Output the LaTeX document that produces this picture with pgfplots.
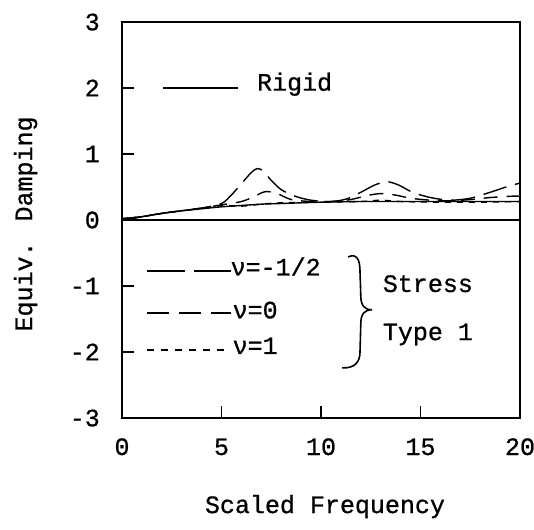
\documentclass[border=0pt]{standalone}
\usepackage{pgfplots}
\pgfplotsset{compat=1.18}
\usepackage{fontspec}
\setmainfont{Liberation Mono}[UprightFeatures={FakeBold=0.8}]
\newcommand{\ff}{\fontsize{25}{30}\selectfont}
\begin{document}
\begin{tikzpicture}[font=\ff]
\useasboundingbox (-122pt,-111pt) rectangle (412pt,418pt);
\begin{axis}[
  scale only axis, width=398pt, height=396pt,
  xmin=0, xmax=20, ymin=-3, ymax=3,
  xtick={0,5,10,15,20}, xticklabels={0,5,10,15,20},
  ytick={-3,-2,-1,0,1,2,3}, yticklabels={-3,-2,-1,0,1,2,3},
  tick pos=left, tick align=inside, major tick length=12pt,
  axis line style={line width=1.2pt},
  every tick/.style={black, line width=1.2pt},
  tick label style={font=\ff},
  xticklabel style={anchor=base, inner sep=0pt, yshift=-37pt},
  yticklabel style={anchor=east, inner sep=0pt, xshift=-22pt},
  xlabel={Scaled Frequency},
  ylabel={Equiv. Damping},
  every axis x label/.style={at={(axis description cs:0.51,-0.24)}, anchor=base, font=\ff},
  every axis y label/.style={at={(axis description cs:-0.226,0.49)}, anchor=base, rotate=90, font=\ff},
  clip=false,
]
\draw[line width=1.2pt] (axis cs:0,0) -- (axis cs:20,0);
% Rigid (solid)
\addplot[black, line width=1.4pt, smooth] coordinates {
(0,0.02) (0.5,0.02) (1,0.05) (2,0.10) (3,0.14) (4,0.17) (5,0.20) (6,0.22) (7,0.24) (8,0.25) (10,0.27) (12,0.28) (14,0.28) (16,0.28) (18,0.28) (20,0.28)};
% nu = -1/2 (long dash)
\addplot[black, line width=1.4pt, smooth, dash pattern=on 24pt off 9pt] coordinates {
(0,0.02) (1,0.05) (2,0.1) (3,0.14) (4,0.18) (5,0.25) (5.5,0.38) (6,0.55) (6.5,0.72) (6.8,0.78) (7.1,0.74) (7.5,0.6) (8,0.46) (8.7,0.36) (9.5,0.3) (10.5,0.28) (11.3,0.32) (12,0.42) (12.7,0.53) (13.3,0.58) (13.9,0.53) (14.6,0.42) (15.5,0.34) (16.5,0.3) (17.5,0.33) (18.5,0.42) (19.3,0.5) (20,0.56)};
% nu = 0 (medium dash)
\addplot[black, line width=1.4pt, smooth, dash pattern=on 14pt off 9pt] coordinates {
(0,0.02) (1,0.05) (2,0.1) (3,0.14) (4,0.18) (5,0.23) (6,0.28) (6.6,0.35) (7.2,0.43) (7.8,0.4) (8.5,0.31) (9.5,0.28) (10.5,0.28) (11.5,0.31) (12.3,0.37) (13,0.4) (13.7,0.38) (14.5,0.33) (15.5,0.3) (16.5,0.29) (17.5,0.31) (18.5,0.34) (19.5,0.36) (20,0.36)};
% nu = 1 (short dash)
\addplot[black, line width=1.4pt, smooth, dash pattern=on 6pt off 6pt] coordinates {
(0,0.02) (1,0.05) (2,0.1) (3,0.14) (4,0.18) (5,0.22) (6,0.21) (7,0.24) (8,0.26) (10,0.27) (12,0.28) (13,0.3) (14,0.28) (16,0.27) (18,0.27) (20,0.28)};
% legend samples
\draw[line width=1.4pt] (axis cs:2.06,2) -- (axis cs:5.83,2);
\node[anchor=mid west, inner sep=0pt] at (axis cs:6.78,2) {Rigid};
\draw[line width=1.4pt, dash pattern=on 38pt off 9pt] (axis cs:1.26,-0.77) -- (axis cs:5.5,-0.77);
\node[anchor=mid west, inner sep=0pt] at (axis cs:5.45,-0.80) {ν=-1/2};
\draw[line width=1.4pt, dash pattern=on 22pt off 10pt] (axis cs:1.26,-1.41) -- (axis cs:5.5,-1.41);
\node[anchor=mid west, inner sep=0pt] at (axis cs:5.55,-1.45) {ν=0};
\draw[line width=1.4pt, dash pattern=on 7pt off 7pt] (axis cs:1.26,-1.97) -- (axis cs:5.3,-1.97);
\node[anchor=mid west, inner sep=0pt] at (axis cs:5.55,-1.99) {ν=1};
% brace
\draw[line width=1.6pt] (axis cs:11.36,-0.56) .. controls (axis cs:11.8,-0.5) and (axis cs:11.96,-0.6) .. (axis cs:11.96,-0.78) -- (axis cs:12.0,-1.15) .. controls (axis cs:12.0,-1.3) and (axis cs:12.2,-1.36) .. (axis cs:12.56,-1.36) .. controls (axis cs:12.2,-1.36) and (axis cs:12.0,-1.42) .. (axis cs:12.0,-1.57) -- (axis cs:11.96,-2.0) .. controls (axis cs:11.96,-2.15) and (axis cs:11.7,-2.25) .. (axis cs:11.06,-2.24);
\node[anchor=base west, inner sep=0pt] at (axis cs:13.1,-1.09) {Stress};
\node[anchor=base west, inner sep=0pt] at (axis cs:13.1,-1.82) {Type 1};
\end{axis}
\end{tikzpicture}
\end{document}
